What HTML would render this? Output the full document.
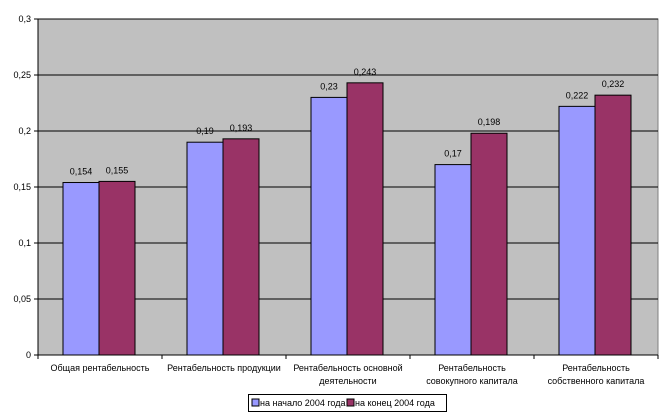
<!DOCTYPE html>
<html><head><meta charset="utf-8"><style>
body{margin:0;background:#fff;width:670px;height:416px;overflow:hidden}
svg{display:block;font-family:"Liberation Sans",sans-serif}
</style></head><body>
<svg id="c" width="670" height="416"></svg>
<script>
const categories=[["Общая рентабельность"],["Рентабельность продукции"],["Рентабельность основной","деятельности"],["Рентабельность","совокупного капитала"],["Рентабельность","собственного капитала"]];
const seriesStart=[0.154,0.19,0.23,0.17,0.222];
const seriesEnd=[0.155,0.193,0.243,0.198,0.232];
const labelsStart=["0,154","0,19","0,23","0,17","0,222"];
const labelsEnd=["0,155","0,193","0,243","0,198","0,232"];
const yTicks=[0,0.05,0.1,0.15,0.2,0.25,0.3];
const yTickLabels=["0","0,05","0,1","0,15","0,2","0,25","0,3"];
const seriesNames=["на начало 2004 года","на конец 2004 года"];
const L=38,R=658,T=19,B=355,yMax=0.3;
const y=v=>B-(v/yMax)*(B-T);
const cw=(R-L)/categories.length;
const x=i=>L+i*cw;
const svg=document.getElementById('c');
const NS='http://www.w3.org/2000/svg';
function mk(t,a,p){const e=document.createElementNS(NS,t);for(const k in a)e.setAttribute(k,a[k]);(p||svg).appendChild(e);return e;}
let e=mk('rect',{x:L,y:T,width:R-L,height:B-T,fill:'#c0c0c0',stroke:'#808080'});

yTicks.forEach((v,i)=>{
 if(v>0){let g=mk('line',{x1:L,x2:R,y1:y(v),y2:y(v),stroke:'#000','stroke-width':1});
 }
 mk('line',{x1:L-4,x2:L,y1:y(v),y2:y(v),stroke:'#000'});
 let t=mk('text',{x:L-7,y:y(v)+3,'text-anchor':'end','font-size':9});t.textContent=yTickLabels[i];
 
});
mk('line',{x1:L,x2:L,y1:T,y2:B,stroke:'#000'});
mk('line',{x1:L,x2:R,y1:B,y2:B,stroke:'#000'});
for(let i=0;i<=categories.length;i++)mk('line',{x1:x(i),x2:x(i),y1:B,y2:B+4,stroke:'#000'});
categories.forEach((c,i)=>{
 const bx=x(i)+25,bw=36;
 let b1=mk('rect',{x:bx,y:y(seriesStart[i]),width:bw,height:B-y(seriesStart[i]),fill:'#9999ff',stroke:'#000'});
 
 let b2=mk('rect',{x:bx+bw,y:y(seriesEnd[i]),width:bw,height:B-y(seriesEnd[i]),fill:'#993366',stroke:'#000'});
 
 let t1=mk('text',{x:bx+bw/2,y:y(seriesStart[i])-8,'text-anchor':'middle','font-size':9});t1.textContent=labelsStart[i];
 
 let t2=mk('text',{x:bx+bw*1.5,y:y(seriesEnd[i])-8,'text-anchor':'middle','font-size':9});t2.textContent=labelsEnd[i];
 
 c.forEach((line,j)=>{let t=mk('text',{x:x(i)+cw/2,y:371+j*13,'text-anchor':'middle','font-size':9});t.textContent=line;
 });
});
let lg=mk('g',{});
mk('rect',{x:248.5,y:394.5,width:198,height:17,fill:'#fff',stroke:'#000'},lg);
mk('rect',{x:252,y:399,width:7,height:7,fill:'#9999ff',stroke:'#000'},lg);
let l1=mk('text',{x:260,y:406,'font-size':9},lg);l1.textContent=seriesNames[0];
mk('rect',{x:347,y:399,width:7,height:7,fill:'#993366',stroke:'#000'},lg);
let l2=mk('text',{x:355,y:406,'font-size':9},lg);l2.textContent=seriesNames[1];
</script>
</body></html>
